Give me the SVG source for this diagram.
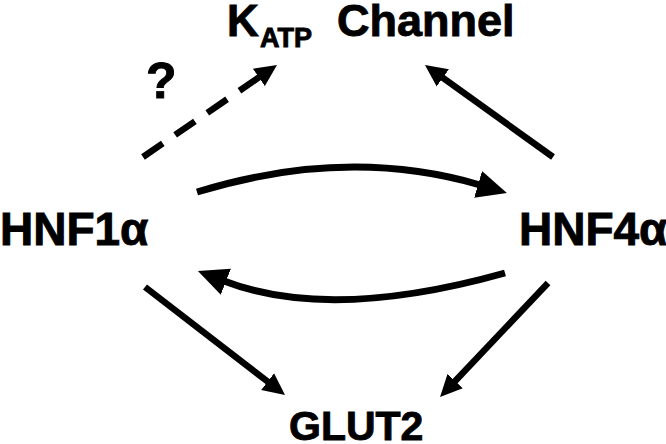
<svg xmlns="http://www.w3.org/2000/svg" width="666" height="444" viewBox="0 0 666 444">
<style>
text{font-family:"Liberation Sans",Arial,sans-serif;font-weight:bold;fill:#000;stroke:#000;stroke-width:0.9}
.c{fill:none;stroke:#000;stroke-width:7}
.s{fill:none;stroke:#000;stroke-width:6.5}
.d{stroke-dasharray:24 15}
</style>
<defs>
<marker id="big" markerUnits="userSpaceOnUse" markerWidth="32" markerHeight="30" refX="2" refY="14" orient="auto" viewBox="0 0 32 28">
<path d="M0,0 L30,14 L0,28 Z" fill="#000"/>
</marker>
<marker id="sm" markerUnits="userSpaceOnUse" markerWidth="24" markerHeight="22" refX="2" refY="10.5" orient="auto" viewBox="0 0 24 21">
<path d="M0,0 L22,10.5 L0,21 Z" fill="#000"/>
</marker>
</defs>
<rect width="666" height="444" fill="#fff"/>
<g id="katp"><text x="227" y="36" font-size="44">K</text><text x="260" y="47" font-size="27">ATP</text><text x="337" y="36" font-size="45">Channel</text></g>
<g id="question"><text x="146" y="98" font-size="50">?</text></g>
<g id="hnf1a"><text x="0" y="245" font-size="46">HNF1α</text></g>
<g id="hnf4a"><text x="519" y="245" font-size="46">HNF4α</text></g>
<g id="glut2"><text x="289" y="440" font-size="41">GLUT2</text></g>
<g id="connectors">
<path class="s d" d="M143,157 L260.5,76.3" marker-end="url(#sm)"/>
<path class="s" d="M553,157 L441.2,76.7" marker-end="url(#sm)"/>
<path class="c" d="M197,192 Q347,146 480,185" marker-end="url(#big)"/>
<path class="c" d="M505,273 Q330,322 224,281" marker-end="url(#big)"/>
<path class="s" d="M145,287 L269.2,382.8" marker-end="url(#sm)"/>
<path class="s" d="M548,283 L453.8,382.5" marker-end="url(#sm)"/>
</g>
</svg>
